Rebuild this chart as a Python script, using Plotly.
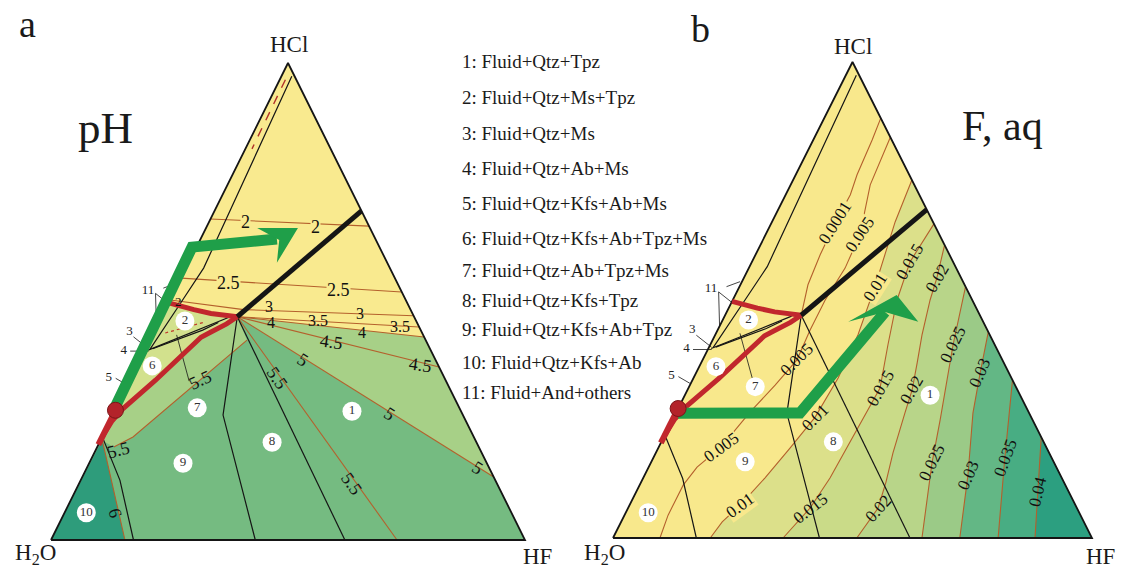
import plotly.graph_objects as go

W, H = 1121, 569
SERIF = "Liberation Serif"

# Compositions are given as (HCl, HF) mole fractions; H2O is the remainder.

# ---- phase-field boundaries (same assemblage fields in both diagrams) ----
triple_hcl, triple_hf = 0.468, 0.159

red_upper_hcl = [0.468, 0.475, 0.483, 0.493, 0.497]
red_upper_hf = [0.159, 0.100, 0.060, 0.020, 0.000]

red_lower_hcl = [0.468, 0.453, 0.435, 0.425, 0.335, 0.275, 0.250, 0.216]
red_lower_hf = [0.159, 0.144, 0.118, 0.104, 0.053, 0.014, 0.004, 0.000]

red_edge_hcl = [0.200, 0.272]
red_edge_hf = [0.000, 0.000]

black_thick_hcl = [0.468, 0.690]
black_thick_hf = [0.159, 0.310]

bnd_8_9_hcl = [0.468, 0.262, 0.000]
bnd_8_9_hf = [0.159, 0.232, 0.431]
bnd_1_8_hcl = [0.468, 0.000]
bnd_1_8_hf = [0.159, 0.620]
bnd_9_10_hcl = [0.212, 0.125, 0.000]
bnd_9_10_hf = [0.004, 0.083, 0.174]
bnd_11_hcl = [0.972, 0.570, 0.490, 0.400]
bnd_11_hf = [0.022, 0.037, 0.024, 0.009]
wedge_a_hcl = [0.466, 0.398]
wedge_a_hf = [0.140, 0.006]
wedge_b_hcl = [0.456, 0.440, 0.401]
wedge_b_hf = [0.125, 0.100, 0.014]

# leader lines for the narrow fields
lead_11a = ([0.517, 0.493], [-0.038, 0.004])
lead_11b = ([0.517, 0.445], [-0.038, 0.000])
lead_11c = ([0.528, 0.5385], [-0.027, -0.004])
lead_3 = ([0.426, 0.401], [-0.039, 0.005])
lead_4 = ([0.396, 0.396], [-0.031, 0.008])
lead_5 = ([0.339, 0.325], [-0.033, -0.002])
lead_7 = ([0.430, 0.333], [0.050, 0.125])

side_text = ["11", "3", "4", "5"]
side_hcl = [0.523, 0.437, 0.397, 0.340]
side_hf = [-0.057, -0.053, -0.045, -0.048]

# fluid evolution paths
dot_hcl, dot_hf = 0.272, 0.0
path_a_hcl = [0.272, 0.614, 0.631]
path_a_hf = [-0.004, -0.0095, 0.161]
head_a_hcl = [0.654, 0.654, 0.629, 0.581]
head_a_hf = [0.194, 0.108, 0.167, 0.186]
path_b_hcl = [0.262, 0.2626, 0.4748]
path_b_hf = [0.005, 0.259, 0.3305]
head_b_hcl = [0.5105, 0.4544, 0.4748, 0.4544]
head_b_hf = [0.337, 0.4102, 0.3305, 0.264]

# ---- panel a: pH isolines ----
ph2_hcl, ph2_hf = [0.673, 0.658], [0.000, 0.342]
ph25_hcl, ph25_hf = [0.549, 0.520], [0.000, 0.480]
ph3_hcl, ph3_hf = [0.503, 0.483, 0.470], [0.000, 0.165, 0.530]
ph35_hcl, ph35_hf = [0.468, 0.4465], [0.159, 0.5535]
ph4_hcl, ph4_hf = [0.468, 0.4256], [0.159, 0.5744]
ph45_hcl, ph45_hf = [0.468, 0.3627], [0.159, 0.6373]
ph5_hcl, ph5_hf = [0.468, 0.132], [0.159, 0.868]
ph55r_hcl, ph55r_hf = [0.468, 0.000], [0.159, 0.730]
ph55l_hcl, ph55l_hf = [0.419, 0.216, 0.195], [0.204, 0.065, 0.035]
ph6_hcl, ph6_hf = [0.210, 0.000], [0.003, 0.156]
ph15_hcl, ph15_hf = [0.965, 0.820], [0.012, 0.014]
ph_small_hcl, ph_small_hf = [0.434, 0.457], [0.024, 0.096]

ph_lab_text = ["2", "2", "2.5", "2.5", "3", "3", "3.5", "3.5", "4", "4", "4.5", "4.5",
               "5", "5", "5", "5.5", "5.5", "5.5", "5.5", "6"]
ph_lab_hcl = [0.667, 0.656, 0.539, 0.524, 0.489, 0.474, 0.461, 0.447, 0.457, 0.436, 0.415, 0.367,
              0.377, 0.264, 0.151, 0.340, 0.117, 0.335, 0.189, 0.057]
ph_lab_hf = [0.076, 0.229, 0.104, 0.344, 0.216, 0.415, 0.333, 0.513, 0.236, 0.438, 0.385, 0.597,
             0.343, 0.583, 0.825, 0.307, 0.576, 0.147, 0.047, 0.107]

reg_a_text = ["1", "2", "6", "7", "8", "9", "10"]
reg_a_hcl = [0.270, 0.459, 0.365, 0.277, 0.205, 0.161, 0.057]
reg_a_hf = [0.500, 0.053, 0.031, 0.170, 0.364, 0.198, 0.046]

# ---- panel b: F (aq) isolines ----
f0001_hcl = [0.882, 0.836, 0.763, 0.721, 0.662, 0.595, 0.532, 0.475]
f0001_hf = [0.118, 0.123, 0.128, 0.135, 0.133, 0.135, 0.141, 0.157]
f005_hcl = [0.842, 0.742, 0.637, 0.567, 0.500, 0.437, 0.374, 0.321, 0.265, 0.191, 0.149, 0.111, 0.048, 0.000]
f005_hf = [0.158, 0.166, 0.197, 0.201, 0.193, 0.193, 0.197, 0.178, 0.154, 0.130, 0.101, 0.091, 0.091, 0.098]
f01_hcl = [0.752, 0.664, 0.527, 0.427, 0.336, 0.254, 0.189, 0.126, 0.069, 0.034, 0.000]
f01_hf = [0.248, 0.257, 0.283, 0.298, 0.302, 0.295, 0.275, 0.254, 0.231, 0.211, 0.203]
f015_hcl = [0.660, 0.580, 0.500, 0.406, 0.315, 0.258, 0.195, 0.126, 0.063, 0.000]
f015_hf = [0.340, 0.330, 0.343, 0.371, 0.400, 0.397, 0.393, 0.390, 0.380, 0.355]
f02_hcl = [0.6155, 0.546, 0.500, 0.426, 0.368, 0.311, 0.263, 0.179, 0.118, 0.063, 0.000]
f02_hf = [0.3845, 0.403, 0.412, 0.432, 0.451, 0.469, 0.478, 0.495, 0.511, 0.522, 0.509]
f025_hcl = [0.528, 0.406, 0.248, 0.158, 0.000]
f025_hf = [0.472, 0.507, 0.559, 0.587, 0.645]
f03_hcl = [0.433, 0.347, 0.263, 0.132, 0.000]
f03_hf = [0.567, 0.593, 0.620, 0.675, 0.724]
f035_hcl = [0.332, 0.168, 0.000]
f035_hf = [0.668, 0.734, 0.804]
f04_hcl = [0.212, 0.097, 0.000]
f04_hf = [0.788, 0.839, 0.881]

f_lab_text = ["0.0001", "0.005", "0.01", "0.015", "0.02", "0.005", "0.015", "0.02", "0.025", "0.03",
              "0.025", "0.03", "0.035", "0.04", "0.02", "0.01", "0.005", "0.01", "0.015"]
f_lab_hcl = [0.662, 0.637, 0.527, 0.580, 0.546, 0.374, 0.315, 0.311, 0.406, 0.347,
             0.158, 0.132, 0.168, 0.097, 0.063, 0.254, 0.191, 0.069, 0.063]
f_lab_hf = [0.133, 0.197, 0.283, 0.330, 0.403, 0.197, 0.400, 0.469, 0.507, 0.593,
            0.587, 0.675, 0.734, 0.839, 0.522, 0.295, 0.130, 0.231, 0.380]

reg_b_text = ["1", "2", "6", "7", "8", "9", "10"]
reg_b_hcl = [0.300, 0.458, 0.360, 0.318, 0.202, 0.160, 0.053]
reg_b_hf = [0.512, 0.054, 0.035, 0.138, 0.359, 0.196, 0.047]

legend_items = ["1: Fluid+Qtz+Tpz", "2: Fluid+Qtz+Ms+Tpz", "3: Fluid+Qtz+Ms", "4: Fluid+Qtz+Ab+Ms",
                "5: Fluid+Qtz+Kfs+Ab+Ms", "6: Fluid+Qtz+Kfs+Ab+Tpz+Ms", "7: Fluid+Qtz+Ab+Tpz+Ms",
                "8: Fluid+Qtz+Kfs+Tpz", "9: Fluid+Qtz+Kfs+Ab+Tpz", "10: Fluid+Qtz+Kfs+Ab",
                "11: Fluid+And+others"]

# ---- styling ----
BROWN = "#B4602C"
RED = "#C1272D"
GREEN = "#1F9F49"
INK = "#151515"
A_YELLOW, A_YG, A_LG, A_MG, A_TEAL = "#F9EA8F", "#D2E18D", "#A7D087", "#75BB81", "#2E9C7B"
B_YELLOW = "#F8E88C"
B_ZONES = ["#DCE08A", "#CADB88", "#B8D589", "#9BCA87", "#63B785", "#48AD83", "#2C9F80"]
NONE = "rgba(0,0,0,0)"

ph_lab_bg = [A_YELLOW] * 4 + [NONE] * 16
ph_lab_size = [18] * 4 + [16] * 6 + [18] * 10
ph_lab_rot = [0, 0, 0, 0, 0, 0, 0, 0, 0, 0, 8, 8, 32, 32, 32, 55, 55, -25, -15, 75]
f_lab_bg = [B_YELLOW, B_YELLOW, B_YELLOW] + [NONE] * 13 + [B_YELLOW, B_YELLOW, NONE]
f_lab_rot = [-58, -56, -58, -60, -60, -45, -60, -60, -64, -66, -64, -66, -70, -76, -48, -45, -36, -36, -38]

# triangle vertex positions (pixels) for each panel
SPLIT = 560
PANEL_A = dict(left=51, right=525, base=540, top=63, px0=0, px1=SPLIT)
PANEL_B = dict(left=613, right=1092, base=538, top=62, px0=SPLIT, px1=W)


def ranges(p):
    sx = p["right"] - p["left"]
    sy = p["base"] - p["top"]
    xr = [(p["px0"] - p["left"]) / sx, (p["px1"] - p["left"]) / sx]
    yr = [(p["base"] - H) / sy, p["base"] / sy]
    return xr, yr


def to_x(hcl, hf):
    return [f + 0.5 * c for c, f in zip(hcl, hf)]


fig = go.Figure()


def add_line(hcl, hf, ax, color, width, dash="solid"):
    fig.add_trace(go.Scatter(x=to_x(hcl, hf), y=list(hcl), mode="lines",
                             line=dict(color=color, width=width, dash=dash),
                             hoverinfo="skip", xaxis=ax[0], yaxis=ax[1]))


def add_fill(hcl, hf, ax, color):
    fig.add_trace(go.Scatter(x=to_x(hcl, hf), y=list(hcl), mode="lines", fill="toself",
                             fillcolor=color, line=dict(width=0, color=color),
                             hoverinfo="skip", xaxis=ax[0], yaxis=ax[1]))


TRI_HCL = [0.0, 0.0, 1.0, 0.0]
TRI_HF = [0.0, 1.0, 0.0, 0.0]


def add_phase_lines(ax):
    for hcl, hf in [(bnd_8_9_hcl, bnd_8_9_hf), (bnd_1_8_hcl, bnd_1_8_hf),
                    (bnd_9_10_hcl, bnd_9_10_hf), (bnd_11_hcl, bnd_11_hf),
                    (wedge_a_hcl, wedge_a_hf), (wedge_b_hcl, wedge_b_hf)]:
        add_line(hcl, hf, ax, INK, 1.2)
    for hcl, hf in [lead_11a, lead_11b, lead_11c, lead_3, lead_4, lead_5, lead_7]:
        add_line(hcl, hf, ax, INK, 0.8)
    add_line(TRI_HCL, TRI_HF, ax, INK, 1.8)


def add_thick(ax):
    add_line(red_upper_hcl, red_upper_hf, ax, RED, 5)
    add_line(red_lower_hcl, red_lower_hf, ax, RED, 5)
    add_line(red_edge_hcl, red_edge_hf, ax, RED, 6)
    add_line(black_thick_hcl, black_thick_hf, ax, INK, 5)


def add_markers(ax, rtext, rhcl, rhf):
    fig.add_trace(go.Scatter(x=to_x([dot_hcl], [dot_hf]), y=[dot_hcl], mode="markers",
                             marker=dict(size=16, color="#B3232A", line=dict(color="#7A1518", width=1)),
                             hoverinfo="skip", xaxis=ax[0], yaxis=ax[1]))
    fig.add_trace(go.Scatter(x=to_x(rhcl, rhf), y=list(rhcl), mode="markers+text", text=rtext,
                             textposition="middle center",
                             textfont=dict(family=SERIF, size=13, color="#333333"),
                             marker=dict(size=19, color="white", line=dict(width=0)),
                             hoverinfo="skip", xaxis=ax[0], yaxis=ax[1]))
    fig.add_trace(go.Scatter(x=to_x(side_hcl, side_hf), y=side_hcl, mode="text", text=side_text,
                             textposition="middle center",
                             textfont=dict(family=SERIF, size=13, color="#222222"),
                             hoverinfo="skip", xaxis=ax[0], yaxis=ax[1]))


def add_arrow(ax, phcl, phf, hhcl, hhf):
    add_line(phcl, phf, ax, GREEN, 11)
    add_fill(hhcl + hhcl[:1], hhf + hhf[:1], ax, GREEN)


# ================= panel a (pH) =================
AX_A = ("x", "y")
add_fill(TRI_HCL, TRI_HF, AX_A, A_YELLOW)
add_fill(red_upper_hcl + red_lower_hcl[::-1], red_upper_hf + red_lower_hf[::-1], AX_A, A_YG)
add_fill([triple_hcl, ph4_hcl[-1], 0.0, 0.0] + red_lower_hcl[::-1],
         [triple_hf, ph4_hf[-1], 1.0, 0.0] + red_lower_hf[::-1], AX_A, A_LG)
add_fill([triple_hcl, ph5_hcl[-1], 0.0, 0.0, ph6_hcl[0]] + ph55l_hcl[::-1] + [triple_hcl],
         [triple_hf, ph5_hf[-1], 1.0, 0.0, 0.0] + ph55l_hf[::-1] + [triple_hf], AX_A, A_MG)
add_fill([0.0, ph6_hcl[0], ph6_hcl[1]], [0.0, ph6_hf[0], ph6_hf[1]], AX_A, A_TEAL)

for hcl, hf in [(ph2_hcl, ph2_hf), (ph25_hcl, ph25_hf), (ph3_hcl, ph3_hf), (ph35_hcl, ph35_hf),
                (ph4_hcl, ph4_hf), (ph45_hcl, ph45_hf), (ph5_hcl, ph5_hf), (ph55r_hcl, ph55r_hf),
                (ph55l_hcl, ph55l_hf), (ph6_hcl, ph6_hf)]:
    add_line(hcl, hf, AX_A, BROWN, 1.1)
add_line(ph15_hcl, ph15_hf, AX_A, "#B0302A", 1.4, "dash")
add_line(ph_small_hcl, ph_small_hf, AX_A, "#C0392B", 1.2, "dot")

add_phase_lines(AX_A)
add_thick(AX_A)
add_arrow(AX_A, path_a_hcl, path_a_hf, head_a_hcl, head_a_hf)
add_markers(AX_A, reg_a_text, reg_a_hcl, reg_a_hf)

# ================= panel b (F, aq) =================
AX_B = ("x2", "y2")
add_fill(TRI_HCL, TRI_HF, AX_B, B_YELLOW)
for (hcl, hf), col in zip([(f01_hcl, f01_hf), (f015_hcl, f015_hf), (f02_hcl, f02_hf),
                           (f025_hcl, f025_hf), (f03_hcl, f03_hf), (f035_hcl, f035_hf),
                           (f04_hcl, f04_hf)], B_ZONES):
    add_fill(hcl + [0.0], hf + [1.0], AX_B, col)

for hcl, hf in [(f0001_hcl, f0001_hf), (f005_hcl, f005_hf), (f01_hcl, f01_hf), (f015_hcl, f015_hf),
                (f02_hcl, f02_hf), (f025_hcl, f025_hf), (f03_hcl, f03_hf), (f035_hcl, f035_hf),
                (f04_hcl, f04_hf)]:
    add_line(hcl, hf, AX_B, BROWN, 1.1)

add_phase_lines(AX_B)
add_thick(AX_B)
add_arrow(AX_B, path_b_hcl, path_b_hf, head_b_hcl, head_b_hf)
add_markers(AX_B, reg_b_text, reg_b_hcl, reg_b_hf)

# ---- annotations ----
ann = []
for t, c, f, bg, rot, sz in zip(ph_lab_text, ph_lab_hcl, ph_lab_hf, ph_lab_bg, ph_lab_rot, ph_lab_size):
    ann.append(dict(x=f + 0.5 * c, y=c, xref="x", yref="y", text=t, showarrow=False,
                    textangle=rot, bgcolor=bg, borderpad=0,
                    font=dict(family=SERIF, size=sz, color="#111111")))
ann.append(dict(x=0.0185 + 0.5 * 0.499, y=0.499, xref="x", yref="y", text="2", showarrow=False,
                font=dict(family=SERIF, size=13, color="#111111")))
for t, c, f, bg, rot in zip(f_lab_text, f_lab_hcl, f_lab_hf, f_lab_bg, f_lab_rot):
    ann.append(dict(x=f + 0.5 * c, y=c, xref="x2", yref="y2", text=t, showarrow=False,
                    textangle=rot, bgcolor=bg, borderpad=0,
                    font=dict(family=SERIF, size=17, color="#111111")))


def paper_text(px, py, text, size, anchor="center"):
    ann.append(dict(x=px / W, y=1 - py / H, xref="paper", yref="paper", text=text,
                    showarrow=False, xanchor=anchor, yanchor="middle",
                    font=dict(family=SERIF, size=size, color="#1a1a1a")))


paper_text(27, 24, "a", 38)
paper_text(105, 128, "pH", 45)
paper_text(700, 29, "b", 38)
paper_text(1002, 126, "F, aq", 42)
paper_text(289, 44, "HCl", 23)
paper_text(853, 47, "HCl", 23)
paper_text(35, 554, "H<sub>2</sub>O", 23)
paper_text(537, 556, "HF", 23)
paper_text(604, 554, "H<sub>2</sub>O", 23)
paper_text(1100, 556, "HF", 23)

legend_y = [62, 97, 133, 168, 203, 239, 270, 300, 329, 362, 392]
for txt, py in zip(legend_items, legend_y):
    paper_text(460, py, txt, 19, anchor="left")

xr_a, yr_a = ranges(PANEL_A)
xr_b, yr_b = ranges(PANEL_B)

fig.update_layout(
    width=W, height=H, margin=dict(l=0, r=0, t=0, b=0),
    paper_bgcolor="white", plot_bgcolor="rgba(0,0,0,0)", showlegend=False,
    xaxis=dict(domain=[0, SPLIT / W], range=xr_a, visible=False, fixedrange=True),
    yaxis=dict(domain=[0, 1], range=yr_a, visible=False, fixedrange=True, anchor="x"),
    xaxis2=dict(domain=[SPLIT / W, 1], range=xr_b, visible=False, fixedrange=True, anchor="y2"),
    yaxis2=dict(domain=[0, 1], range=yr_b, visible=False, fixedrange=True, anchor="x2"),
    annotations=ann,
)

fig.write_html("out.html")
